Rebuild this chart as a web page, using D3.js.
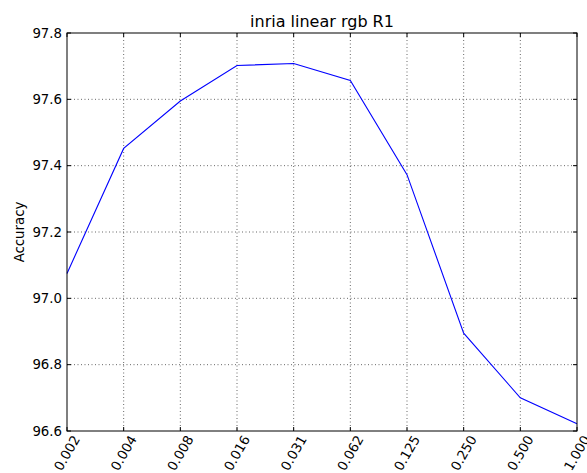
<!DOCTYPE html>
<html>
<head>
<meta charset="utf-8">
<script src="https://cdn.jsdelivr.net/npm/d3@7"></script>
<style>
  body { margin: 0; background: #fff; }
  svg { display: block; font-family: "DejaVu Sans", sans-serif; }
</style>
</head>
<body>
<div id="chart"></div>
<script>
// data
const categories = ["0.002", "0.004", "0.008", "0.016", "0.031", "0.062", "0.125", "0.250", "0.500", "1.000"];
const accuracy = [97.075, 97.452, 97.595, 97.702, 97.708, 97.657, 97.373, 96.895, 96.700, 96.622];
const yTicks = [96.6, 96.8, 97.0, 97.2, 97.4, 97.6, 97.8];

const width = 587, height = 473;
const margin = { top: 33, right: 10, bottom: 42, left: 67 };
const innerW = 577 - margin.left;
const innerH = 431 - margin.top;

const svg = d3.select("#chart").append("svg")
  .attr("width", width)
  .attr("height", height);

const g = svg.append("g")
  .attr("transform", `translate(${margin.left},${margin.top})`);

const x = d3.scalePoint()
  .domain(categories)
  .range([0, innerW]);

const y = d3.scaleLinear()
  .domain([96.6, 97.8])
  .range([innerH, 0]);

// grid
g.append("g").selectAll("line")
  .data(categories.slice(1, -1))
  .enter().append("line")
  .attr("x1", d => x(d)).attr("x2", d => x(d))
  .attr("y1", 0).attr("y2", innerH)
  .attr("stroke", "#000").attr("stroke-width", 0.6)
  .attr("stroke-dasharray", "1,2.5");

g.append("g").selectAll("line")
  .data(yTicks.slice(1, -1))
  .enter().append("line")
  .attr("x1", 0).attr("x2", innerW)
  .attr("y1", d => y(d)).attr("y2", d => y(d))
  .attr("stroke", "#000").attr("stroke-width", 0.6)
  .attr("stroke-dasharray", "1,2.5");

// line
const line = d3.line()
  .x((d, i) => x(categories[i]))
  .y(d => y(d));

g.append("path")
  .datum(accuracy)
  .attr("d", line)
  .attr("fill", "none")
  .attr("stroke", "#0000ff")
  .attr("stroke-width", 1.1);

// inward ticks on all four sides
const tickLen = 4;
categories.forEach(c => {
  g.append("line").attr("x1", x(c)).attr("x2", x(c)).attr("y1", innerH).attr("y2", innerH - tickLen).attr("stroke", "#000");
  g.append("line").attr("x1", x(c)).attr("x2", x(c)).attr("y1", 0).attr("y2", tickLen).attr("stroke", "#000");
});
yTicks.forEach(t => {
  g.append("line").attr("x1", 0).attr("x2", tickLen).attr("y1", y(t)).attr("y2", y(t)).attr("stroke", "#000");
  g.append("line").attr("x1", innerW).attr("x2", innerW - tickLen).attr("y1", y(t)).attr("y2", y(t)).attr("stroke", "#000");
});

// frame
g.append("rect")
  .attr("x", 0).attr("y", 0)
  .attr("width", innerW).attr("height", innerH)
  .attr("fill", "none")
  .attr("stroke", "#000")
  .attr("stroke-width", 1);

// y tick labels
g.append("g").selectAll("text")
  .data(yTicks)
  .enter().append("text")
  .attr("x", -5)
  .attr("y", d => y(d))
  .attr("dy", "0.35em")
  .attr("text-anchor", "end")
  .attr("font-size", "13.3px")
  .attr("fill", "#000")
  .text(d => d.toFixed(1));

// x tick labels, rotated 60 degrees
g.append("g").selectAll("text")
  .data(categories)
  .enter().append("text")
  .attr("transform", d => `translate(${x(d)},${innerH + 22}) rotate(-60)`)
  .attr("text-anchor", "middle")
  .attr("dy", "0.35em")
  .attr("font-size", "13.3px")
  .attr("fill", "#000")
  .text(d => d);

// axis label
svg.append("text")
  .attr("transform", `translate(19,${margin.top + innerH / 2}) rotate(-90)`)
  .attr("text-anchor", "middle")
  .attr("dy", "0.35em")
  .attr("font-size", "13.3px")
  .text("Accuracy");

// title
svg.append("text")
  .attr("x", margin.left + innerW / 2)
  .attr("y", 27)
  .attr("text-anchor", "middle")
  .attr("font-size", "16px")
  .text("inria linear rgb R1");
</script>
</body>
</html>
